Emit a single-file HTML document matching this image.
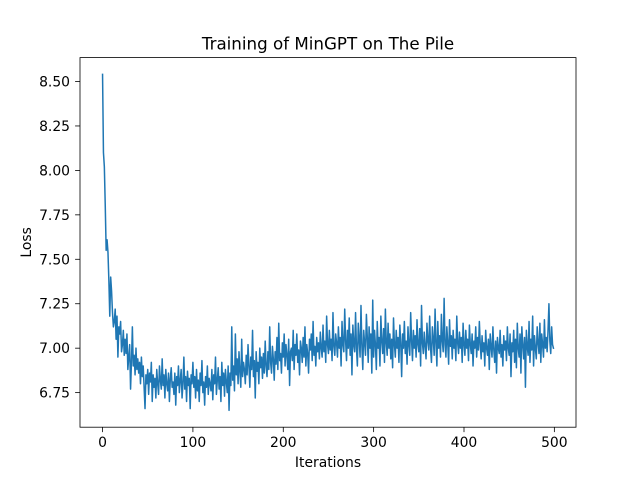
<!DOCTYPE html>
<html><head><meta charset="utf-8"><style>
body{margin:0;background:#fff;}
svg{display:block;font-family:"DejaVu Sans","Liberation Sans",sans-serif;}
</style></head><body>
<svg id="chart" width="640" height="480">
<rect width="640" height="480" fill="#fff"/>
<text x="328" y="49.5" text-anchor="middle" font-size="16.7">Training of MinGPT on The Pile</text>
<text x="328" y="467" text-anchor="middle" font-size="13.9">Iterations</text>
<text x="31" y="242.4" text-anchor="middle" font-size="13.9" transform="rotate(-90 31 242.4)">Loss</text>
<g id="plot"></g>
</svg>
<script>
const xTicks=[0,100,200,300,400,500];
const yTicks=[6.75,7.00,7.25,7.50,7.75,8.00,8.25,8.50];
const yTickLabels=["6.75","7.00","7.25","7.50","7.75","8.00","8.25","8.50"];
const lossValues=[
8.54,8.10,8.02,7.80,7.55,7.61,7.54,7.38,7.18,7.40,7.32,7.20,7.12,7.15,7.22,7.05,7.18,6.95,7.12,7.08,
7.15,6.98,7.02,7.10,6.96,7.05,6.97,7.08,6.88,6.95,7.02,6.77,6.92,7.12,6.90,6.96,6.85,7.00,6.88,6.94,
6.86,6.92,6.80,6.95,6.84,6.90,6.78,6.66,6.85,6.80,6.88,6.74,6.86,6.81,6.92,6.70,6.85,6.78,6.83,6.72,
6.88,6.80,6.74,6.90,6.82,6.77,6.94,6.79,6.85,6.72,6.88,6.80,6.76,6.86,6.70,6.83,6.89,6.78,6.81,6.74,
6.86,6.68,6.84,6.79,6.90,6.75,6.82,6.88,6.72,6.80,6.95,6.77,6.84,6.70,6.87,6.79,6.83,6.66,6.85,6.80,
6.92,6.78,6.84,6.72,6.88,6.76,6.82,6.70,6.86,6.79,6.93,6.75,6.81,6.68,6.84,6.78,6.90,6.74,6.83,6.80,
6.76,6.88,6.71,6.85,6.80,6.95,6.74,6.82,6.89,6.77,6.84,6.70,6.92,6.79,6.86,6.73,6.88,6.81,6.75,6.90,
6.65,6.86,6.79,7.12,6.82,6.90,6.76,7.08,6.85,6.94,6.80,6.98,6.87,6.78,7.05,6.84,6.92,6.88,6.80,6.96,
6.85,7.02,6.90,6.78,6.95,6.88,7.10,6.84,6.93,6.72,6.98,6.87,6.92,6.80,7.00,6.89,6.95,6.83,6.97,6.86,
7.04,6.90,6.84,6.98,6.88,7.12,6.92,6.86,7.01,6.94,6.82,6.98,6.91,7.06,6.88,7.14,6.93,6.97,6.86,7.03,
6.95,7.08,6.90,7.02,6.96,6.88,7.05,6.79,6.98,7.00,6.93,7.10,6.88,7.02,6.96,7.08,6.92,6.99,6.85,7.04,
7.00,6.92,7.06,6.95,7.12,6.90,7.02,6.97,6.86,7.05,6.99,7.08,6.93,7.15,6.96,7.01,6.90,7.06,6.98,7.03,
6.94,7.09,7.00,6.95,7.13,6.98,7.04,6.92,7.18,7.02,6.97,7.10,6.99,7.05,6.93,7.20,7.01,6.96,7.08,7.03,
6.95,7.12,7.00,7.06,6.90,7.15,7.02,6.98,7.22,7.04,6.93,7.10,7.00,7.17,6.96,7.08,6.85,7.13,7.02,6.98,
7.20,7.00,6.90,7.14,7.05,6.95,7.24,7.01,6.88,7.10,7.03,6.96,7.19,7.06,6.92,7.12,7.00,7.08,6.86,7.27,
6.95,7.10,7.02,6.88,7.15,7.00,7.06,6.90,7.18,7.04,6.97,7.11,6.92,7.22,7.03,6.96,7.14,7.00,7.08,6.94,
7.05,6.89,7.17,7.02,6.95,7.10,7.00,7.06,6.92,7.13,7.03,6.84,7.08,7.00,7.15,6.97,7.04,6.91,7.12,7.02,
6.96,7.20,7.04,6.93,7.10,7.00,7.07,6.95,7.16,7.02,6.98,7.11,6.90,7.24,7.03,6.97,7.09,7.01,6.94,7.14,
7.04,6.99,7.18,7.00,6.92,7.12,7.05,6.96,7.22,7.03,6.90,7.15,7.00,7.07,6.95,7.19,7.04,6.98,7.28,7.02,
6.95,7.12,7.03,6.91,7.16,7.01,7.07,6.94,7.10,7.00,7.05,6.93,7.18,7.03,6.97,7.09,7.00,7.06,6.92,7.14,
7.02,6.96,7.10,7.00,7.05,6.93,7.13,7.02,6.97,7.08,6.90,7.04,7.00,7.12,6.95,7.06,6.99,7.15,7.02,6.94,
7.07,6.98,7.03,6.90,7.10,7.00,6.96,7.05,6.88,7.08,7.01,6.95,7.12,6.99,6.92,7.04,6.86,7.06,7.00,6.97,
7.10,6.95,7.02,6.90,7.07,6.99,7.04,6.93,7.12,7.00,6.96,7.08,6.84,7.03,6.98,7.10,6.92,7.05,6.89,7.14,
7.00,6.95,7.08,6.86,7.12,7.02,6.94,7.06,6.78,7.10,7.01,6.96,7.15,6.92,7.05,6.99,7.18,6.90,7.07,7.00,
6.94,7.12,7.03,6.97,7.14,6.92,7.08,7.02,6.95,7.16,7.00,7.06,6.98,7.10,7.25,7.04,6.97,7.12,7.02,7.00
];
const L=80,R=576,T=57.6,B=427.2;
const n=lossValues.length;
const xmin=-(n-1)*0.05,xmax=(n-1)*1.05;
const ymn=Math.min(...lossValues),ymx=Math.max(...lossValues);
const ymin=ymn-(ymx-ymn)*0.05,ymax=ymx+(ymx-ymn)*0.05;
const sx=v=>L+(v-xmin)/(xmax-xmin)*(R-L);
const sy=v=>B-(v-ymin)/(ymax-ymin)*(B-T);
const NS="http://www.w3.org/2000/svg";
const g=document.getElementById('plot');
function mk(tag,attrs,parent){const e=document.createElementNS(NS,tag);for(const k in attrs)e.setAttribute(k,attrs[k]);(parent||g).appendChild(e);return e;}
let d="";
lossValues.forEach((v,i)=>{d+=(i?"L":"M")+sx(i).toFixed(2)+","+sy(v).toFixed(2);});
const line=mk('path',{d:d,fill:'none',stroke:'#1f77b4','stroke-width':1.5,'stroke-linejoin':'round','stroke-linecap':'square'});


xTicks.forEach(t=>{
  const x=sx(t);
  const tk=mk('line',{x1:x,x2:x,y1:B,y2:B+4.9,stroke:'#000','stroke-width':0.8});
  
  
  const tx=mk('text',{x:x,y:B+20,'text-anchor':'middle','font-size':13.9});
  tx.textContent=t;
  
  
});
yTicks.forEach((t,i)=>{
  const y=sy(t);
  const tk=mk('line',{x1:L-4.9,x2:L,y1:y,y2:y,stroke:'#000','stroke-width':0.8});
  
  
  const tx=mk('text',{x:L-10,y:y+5,'text-anchor':'end','font-size':13.9});
  tx.textContent=yTickLabels[i];
  
  
});
const frame=mk('rect',{x:L,y:T,width:R-L,height:B-T,fill:'none',stroke:'#000','stroke-width':0.8});


</script>
</body></html>
